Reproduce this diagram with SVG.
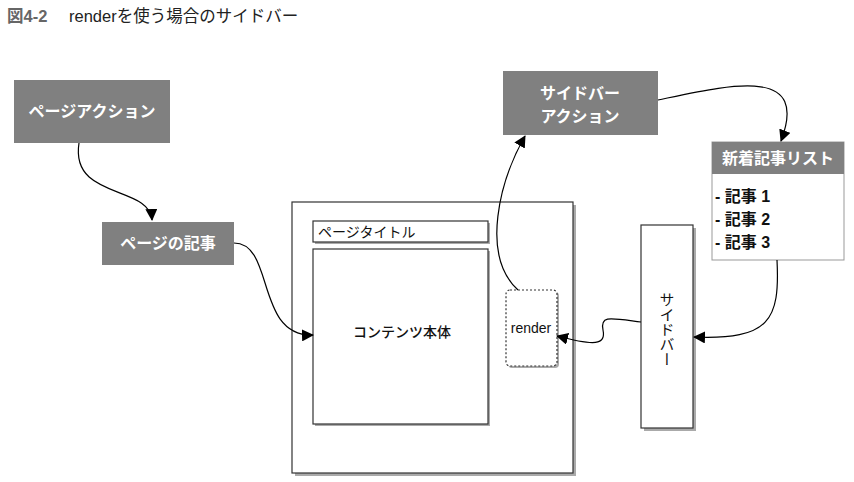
<svg xmlns="http://www.w3.org/2000/svg" width="854" height="482" viewBox="0 0 854 482">
<defs>
<marker id="arr" markerWidth="12" markerHeight="12" refX="11" refY="6" orient="auto" markerUnits="userSpaceOnUse">
<path d="M0,0 L12,6 L0,12 Z" fill="#000"/>
</marker>
</defs>
<style>
text{font-family:"Liberation Sans","Noto Sans CJK JP",sans-serif;}
.gray{fill:#808080;}
.wt{fill:#fff;font-weight:bold;font-size:16px;text-anchor:middle;}
.box{fill:#fff;stroke:#333;stroke-width:1.2;}
.sh{fill:#aaa;}
.conn{fill:none;stroke:#000;stroke-width:1.2;marker-end:url(#arr);}
.bt{fill:#111;font-size:14px;}
</style>
<rect width="854" height="482" fill="#fff"/>
<g id="title">
<text x="7" y="22" font-size="16.5" fill="#666" font-weight="bold">図4-2</text>
<text x="69" y="22" font-size="16.5" fill="#222">renderを使う場合のサイドバー</text>
</g>
<g id="page-action">
<rect x="14" y="80" width="156" height="63" class="gray"/>
<text x="92" y="117" class="wt">ページアクション</text>
</g>
<g id="page-article">
<rect x="102" y="222" width="132" height="43" class="gray"/>
<text x="168" y="249" class="wt">ページの記事</text>
</g>
<g id="page-container">
<rect x="295" y="205" width="281" height="271" class="sh"/>
<rect x="292" y="202" width="281" height="271" class="box"/>
</g>
<g id="page-title">
<rect x="315" y="223" width="175" height="21" class="sh"/>
<rect x="313" y="221" width="175" height="21" class="box"/>
<text x="318" y="237" class="bt">ページタイトル</text>
</g>
<g id="content">
<rect x="315" y="251" width="175" height="175" class="sh"/>
<rect x="313" y="249" width="175" height="175" class="box"/>
<text x="402" y="337" class="bt" text-anchor="middle" font-weight="500">コンテンツ本体</text>
</g>
<g id="render">
<rect x="508" y="292" width="51" height="76" rx="4" class="sh"/>
<rect x="506" y="290" width="51" height="76" rx="4" fill="#fff" stroke="#333" stroke-width="1.2" stroke-dasharray="2,2"/>
<text x="531" y="333" class="bt" text-anchor="middle">render</text>
</g>
<g id="sidebar-action">
<rect x="503" y="71" width="155" height="64" class="gray"/>
<text x="580" y="99" class="wt">サイドバー</text>
<text x="580" y="122" class="wt">アクション</text>
</g>
<g id="new-list">
<rect x="712" y="142" width="132" height="118" fill="#fff" stroke="#999" stroke-width="1"/>
<rect x="712" y="142" width="132" height="32" class="gray"/>
<text x="778" y="164" class="wt">新着記事リスト</text>
<text x="715" y="202" font-size="16" font-weight="bold" fill="#111">- 記事 1</text>
<text x="715" y="225" font-size="16" font-weight="bold" fill="#111">- 記事 2</text>
<text x="715" y="248" font-size="16" font-weight="bold" fill="#111">- 記事 3</text>
</g>
<g id="sidebar">
<rect x="644" y="228" width="52" height="203" class="sh"/>
<rect x="641" y="225" width="52" height="203" class="box"/>
<text x="667" y="292" font-size="15" fill="#111" style="writing-mode:vertical-rl;font-family:'Noto Sans CJK JP',sans-serif" text-anchor="start">サイドバー</text>
</g>
<g id="connectors">
<path class="conn" d="M79,143 C70,200 150,185 152,220"/>
<path class="conn" d="M234,243 C275,243 255,337 313,335"/>
<path class="conn" d="M518,290 C480,255 500,180 525,136"/>
<path class="conn" d="M658,100 C730,85 810,65 781,141"/>
<path class="conn" d="M777,260 C780,320 770,340 694,337"/>
<path class="conn" d="M641,322 C610,318 600,315 603,330 C606,345 595,346 557,336"/>
</g>
</svg>
